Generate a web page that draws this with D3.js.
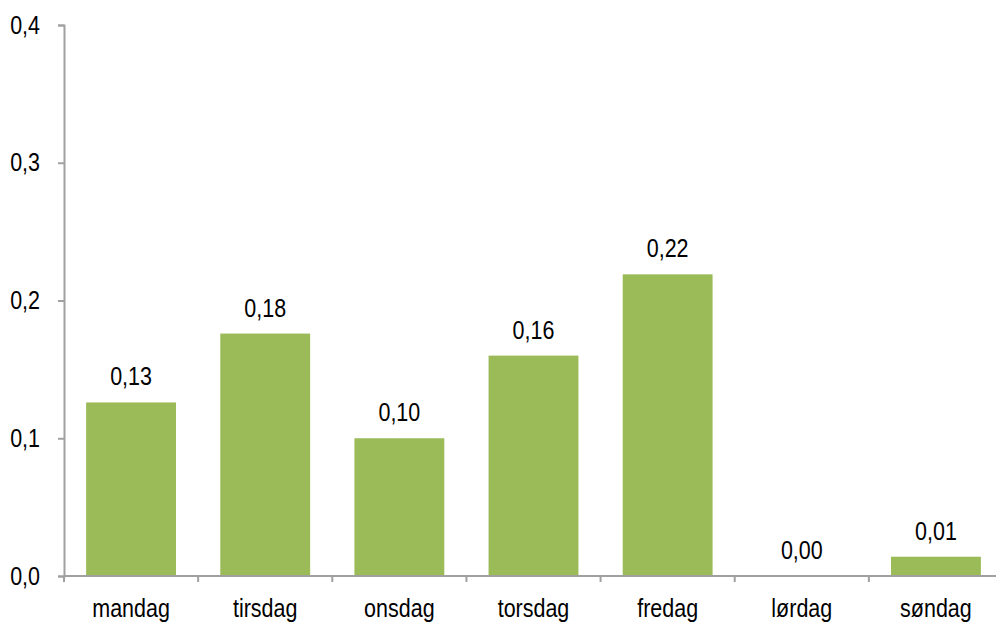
<!DOCTYPE html>
<html>
<head>
<meta charset="utf-8">
<script src="https://cdn.jsdelivr.net/npm/d3@7"></script>
<style>
  body { margin: 0; background: #fff; }
  text { font-family: "Liberation Sans", Arial, sans-serif; }
</style>
</head>
<body>
<div id="chart"></div>
<script>
const days = ["mandag", "tirsdag", "onsdag", "torsdag", "fredag", "lørdag", "søndag"]
const values = [0.126, 0.176, 0.100, 0.160, 0.219, 0.0, 0.014]
const valueLabels = ["0,13", "0,18", "0,10", "0,16", "0,22", "0,00", "0,01"]
const yTicks = [0, 0.1, 0.2, 0.3, 0.4]

const width = 996
const height = 626
const plotLeft = 64, plotRight = 1003, plotTop = 25, plotBottom = 576
const fontSize = 25
const squeeze = 0.86   // the original font is a condensed sans

const svg = d3.select("#chart").append("svg")
    .attr("width", width)
    .attr("height", height)

const x = d3.scaleBand()
    .domain(days)
    .range([plotLeft, plotRight])
    .paddingInner(0.33)
    .paddingOuter(0.165)

const y = d3.scaleLinear()
    .domain([0, 0.4])
    .range([plotBottom, plotTop])

const fmt = d => d3.format(".1f")(d).replace(".", ",")

// y axis
const yAxis = svg.append("g")
    .attr("transform", `translate(${plotLeft},0)`)
    .call(d3.axisLeft(y).tickValues(yTicks).tickSize(6).tickPadding(18).tickFormat(fmt))
yAxis.attr("font-family", null).attr("font-size", null)
yAxis.select(".domain").attr("stroke", "#a0a0a0").attr("stroke-width", 2)
yAxis.selectAll(".tick line").attr("stroke", "#a0a0a0").attr("stroke-width", 2)
yAxis.selectAll(".tick text")
    .attr("font-size", fontSize)
    .attr("fill", "#000")
    .attr("x", -24 / squeeze)
    .attr("transform", `scale(${squeeze},1)`)

// bars
svg.append("g")
    .selectAll("rect")
    .data(days)
    .join("rect")
    .attr("x", d => x(d))
    .attr("width", x.bandwidth())
    .attr("y", (d, i) => y(values[i]))
    .attr("height", (d, i) => y(0) - y(values[i]))
    .attr("fill", "#9bbb59")

// x axis
const step = x.step()
const bounds = d3.range(days.length + 1).map(i => plotLeft + i * step)
const xAxis = svg.append("g")
xAxis.append("line")
    .attr("x1", plotLeft).attr("x2", plotRight)
    .attr("y1", plotBottom).attr("y2", plotBottom)
    .attr("stroke", "#a0a0a0").attr("stroke-width", 2)
xAxis.selectAll("line.tick")
    .data(bounds)
    .join("line")
    .attr("class", "tick")
    .attr("x1", d => d).attr("x2", d => d)
    .attr("y1", plotBottom).attr("y2", plotBottom + 6)
    .attr("stroke", "#a0a0a0").attr("stroke-width", 2)
xAxis.selectAll("text")
    .data(days)
    .join("text")
    .attr("transform", d => `translate(${x(d) + x.bandwidth() / 2},${plotBottom + 41}) scale(${squeeze},1)`)
    .attr("text-anchor", "middle")
    .attr("font-size", fontSize)
    .text(d => d)

// value labels
svg.append("g")
    .selectAll("text")
    .data(days)
    .join("text")
    .attr("transform", (d, i) => `translate(${x(d) + x.bandwidth() / 2},${y(values[i]) - 17}) scale(${squeeze},1)`)
    .attr("text-anchor", "middle")
    .attr("font-size", fontSize)
    .text((d, i) => valueLabels[i])
</script>
</body>
</html>
